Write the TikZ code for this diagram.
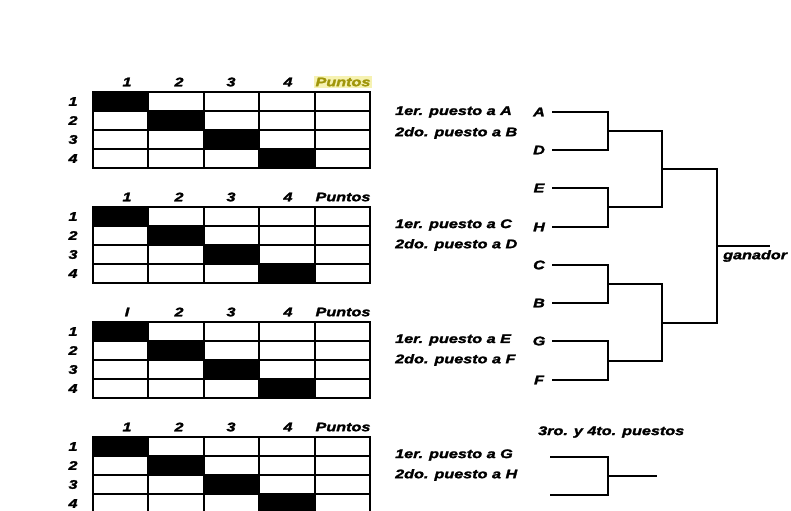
\documentclass[tikz,border=0pt]{standalone}
\usepackage{fontspec}
\newfontfamily\lab{Liberation Sans}[UprightFont={* Bold Italic}, FakeStretch=1.3, FakeBold=2]
\definecolor{hlfill}{RGB}{246,242,178}
\definecolor{hltext}{RGB}{160,150,10}
\tikzset{
  lbl/.style={font=\lab\fontsize{12.5}{13}\selectfont, inner sep=0pt},
  gline/.style={line width=2.2pt, line cap=rect},
  bline/.style={line width=1.8pt},
  letter/.style={lbl, minimum width=26bp, anchor=center},
  plain/.style={},
  highlight/.style={fill=hlfill, text=hltext, inner sep=1.5pt},
}
\newcommand\tablero[4]{%
  \foreach \i in {1,...,4}
    \fill (93+55.4*\i-55.4, #1+19*\i-19) rectangle ++(55.4,19);
  \foreach \i in {0,...,4}
    \draw[gline] (93,#1+19*\i) -- (370,#1+19*\i);
  \foreach \j in {0,...,5}
    \draw[gline] (93+55.4*\j,#1) -- (93+55.4*\j,#1+76);
  \foreach \i in {1,...,4}
    \node[lbl] (#2r\i) at (73,#1+19*\i-9.5) {\i};
  \node[lbl] (#2c1) at (127,#1-10) {#3};
  \node[lbl] (#2c2) at (179,#1-10) {2};
  \node[lbl] (#2c3) at (231,#1-10) {3};
  \node[lbl] (#2c4) at (288,#1-10) {4};
  \node[lbl,#4] (#2cp) at (343,#1-10) {Puntos};
}
\begin{document}
\begin{tikzpicture}[x=1bp,y=-1bp]
\useasboundingbox (0,0) rectangle (791,511);
\begin{scope}
\clip (0,0) rectangle (791,511);
\tablero{92}{ta}{1}{highlight}
\tablero{207}{tb}{1}{plain}
\tablero{322}{tc}{I}{plain}
\tablero{437}{td}{1}{plain}
\end{scope}

% group labels
\node[lbl, anchor=west] (g1a) at (395,112) {1er. puesto a A};
\node[lbl, anchor=west] (g1b) at (395,133) {2do. puesto a B};
\node[lbl, anchor=west] (g2a) at (395,225) {1er. puesto a C};
\node[lbl, anchor=west] (g2b) at (395,245) {2do. puesto a D};
\node[lbl, anchor=west] (g3a) at (395,340) {1er. puesto a E};
\node[lbl, anchor=west] (g3b) at (395,360) {2do. puesto a F};
\node[lbl, anchor=west] (g4a) at (395,455) {1er. puesto a G};
\node[lbl, anchor=west] (g4b) at (395,475) {2do. puesto a H};

% bracket letters
\node[letter] (A) at (539,112) {A};
\node[letter] (D) at (539,150) {D};
\node[letter] (E) at (539,188) {E};
\node[letter] (H) at (539,227) {H};
\node[letter] (C) at (539,265) {C};
\node[letter] (B) at (539,303) {B};
\node[letter] (G) at (539,341) {G};
\node[letter] (F) at (539,380) {F};

\coordinate (q1) at (608,131);
\coordinate (q2) at (608,207);
\coordinate (q3) at (608,284);
\coordinate (q4) at (608,361);
\coordinate (s1) at (662,169);
\coordinate (s2) at (662,323);
\coordinate (fin) at (717,246);
\coordinate (win) at (770,246);

\draw[bline] (A.east) -| (q1) |- (D.east);
\draw[bline] (E.east) -| (q2) |- (H.east);
\draw[bline] (C.east) -| (q3) |- (B.east);
\draw[bline] (G.east) -| (q4) |- (F.east);
\draw[bline] (q1) -| (s1) |- (q2);
\draw[bline] (q3) -| (s2) |- (q4);
\draw[bline] (s1) -| (fin) |- (s2);
\draw[bline] (fin) -- (win);
\node[lbl, anchor=west] (ganador) at (723,256) {ganador};

% third place
\node[lbl, anchor=west] (tercero) at (538,432) {3ro. y 4to. puestos};
\coordinate (t1) at (550,457);
\coordinate (t2) at (550,495);
\coordinate (tq) at (608,476);
\coordinate (tw) at (657,476);
\draw[bline] (t1) -| (tq) |- (t2);
\draw[bline] (tq) -- (tw);
\end{tikzpicture}
\end{document}
